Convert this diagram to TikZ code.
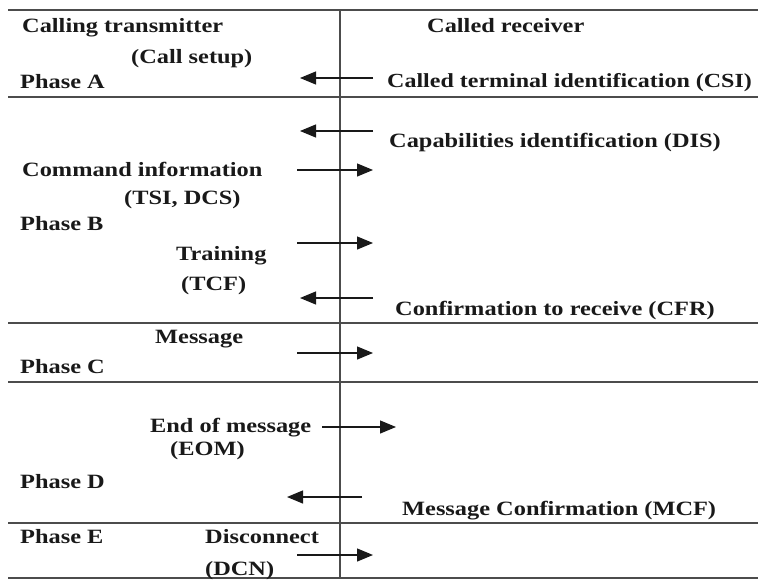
\documentclass[tikz,border=0pt]{standalone}
\usepackage{fontspec}
\newfontfamily\lab{Liberation Serif}[FakeStretch=1.2]
\usetikzlibrary{arrows.meta}
\begin{document}
\begin{tikzpicture}[x=1pt,y=-1pt,
  lbl/.style={anchor=base west,inner sep=0pt,font=\lab\bfseries\fontsize{20.3}{22}\selectfont,text=black!90},
  rule/.style={line width=1.4pt,draw=black!70},
  arr/.style={line width=1.2pt,draw=black!90,-{Triangle[length=16pt,width=13pt]}}]
\useasboundingbox (0,0) rectangle (758,579);
% frame lines
\draw[rule] (8,10) -- (758,10);
\draw[rule] (340,10) -- (340,579);
\draw[rule] (8,97) -- (758,97);
\draw[rule] (8,323) -- (758,323);
\draw[rule] (8,382) -- (758,382);
\draw[rule] (8,523) -- (758,523);
\draw[rule] (8,578) -- (758,578);
% labels
\node[lbl] (ct) at (22,32) {Calling transmitter};
\node[lbl] (cs) at (131,63) {(Call setup)};
\node[lbl] (pa) at (20,88) {Phase A};
\node[lbl] (cr) at (427,32) {Called receiver};
\node[lbl] (csi) at (387,87) {\fontsize{20}{22}\selectfont Called terminal identification (CSI)};
\node[lbl] (dis) at (389,147) {Capabilities identification (DIS)};
\node[lbl] (ci) at (22,176) {Command information};
\node[lbl] (tsi) at (124,204) {(TSI, DCS)};
\node[lbl] (pb) at (20,230) {Phase B};
\node[lbl] (tr) at (176,260) {Training};
\node[lbl] (tcf) at (181,290) {(TCF)};
\node[lbl] (cfr) at (395,315) {Confirmation to receive (CFR)};
\node[lbl] (msg) at (155,343) {Message};
\node[lbl] (pc) at (20,373) {Phase C};
\node[lbl] (eom1) at (150,432) {End of message};
\node[lbl] (eom) at (170,455) {(EOM)};
\node[lbl] (pd) at (20,488) {Phase D};
\node[lbl] (mcf) at (402,515) {Message Confirmation (MCF)};
\node[lbl] (pe) at (20,543) {Phase E};
\node[lbl] (dc) at (205,543) {Disconnect};
\node[lbl] (dcn) at (205,575) {(DCN)};
% arrow end points
\coordinate (a1s) at (373,78);  \coordinate (a1e) at (300,78);
\coordinate (a2s) at (373,131); \coordinate (a2e) at (300,131);
\coordinate (a3s) at (297,170); \coordinate (a3e) at (373,170);
\coordinate (a4s) at (297,243); \coordinate (a4e) at (373,243);
\coordinate (a5s) at (373,298); \coordinate (a5e) at (300,298);
\coordinate (a6s) at (297,353); \coordinate (a6e) at (373,353);
\coordinate (a7s) at (322,427); \coordinate (a7e) at (396,427);
\coordinate (a8s) at (362,497); \coordinate (a8e) at (287,497);
\coordinate (a9s) at (297,555); \coordinate (a9e) at (373,555);
\draw[arr] (a1s) -- (a1e);
\draw[arr] (a2s) -- (a2e);
\draw[arr] (a3s) -- (a3e);
\draw[arr] (a4s) -- (a4e);
\draw[arr] (a5s) -- (a5e);
\draw[arr] (a6s) -- (a6e);
\draw[arr] (a7s) -- (a7e);
\draw[arr] (a8s) -- (a8e);
\draw[arr] (a9s) -- (a9e);
\end{tikzpicture}
\end{document}
